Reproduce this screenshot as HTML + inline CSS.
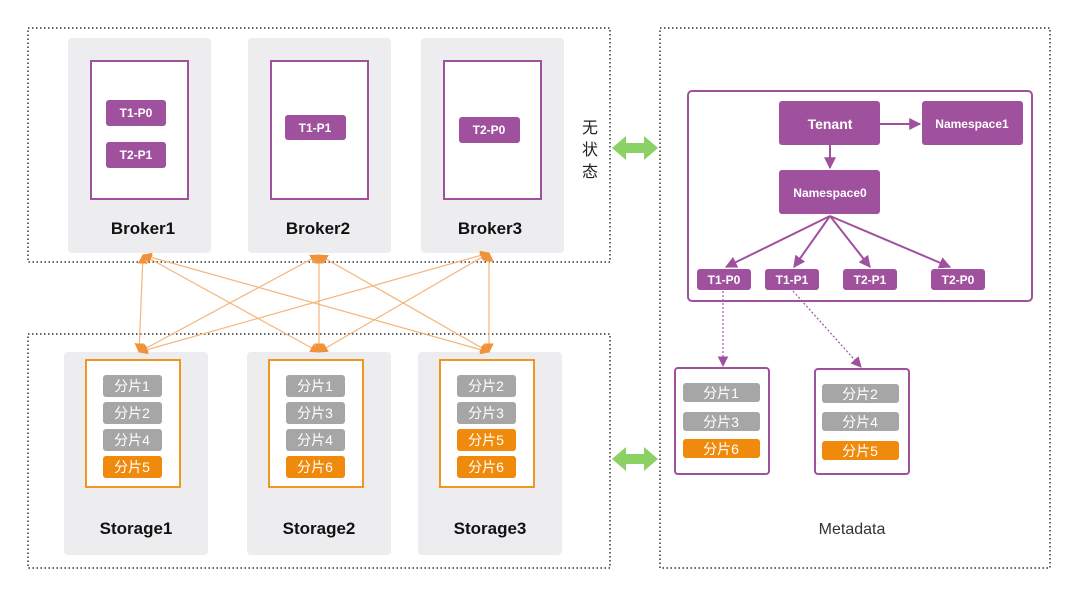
<!DOCTYPE html>
<html><head><meta charset="utf-8"><style>
body{margin:0;background:#fff}
svg{display:block;font-family:"Liberation Sans","Noto Sans CJK SC",sans-serif}
.p{fill:#a0519e}
.pt{fill:#fff;font-weight:bold;text-anchor:middle;dominant-baseline:central}
.g{fill:#a6a6a6}
.o{fill:#f08a0c}
.ct{fill:#fff;font-size:14px;text-anchor:middle;dominant-baseline:central}
.lb{font-size:17px;text-anchor:middle;fill:#111;font-weight:600}
</style></head><body>
<svg width="1080" height="596" viewBox="0 0 1080 596">
<defs>
<marker id="oa" viewBox="0 0 10 10" refX="9" refY="5" markerWidth="8" markerHeight="8" orient="auto-start-reverse"><path d="M0,0L10,5L0,10z" fill="#f0923a"/></marker>
<marker id="pa" viewBox="0 0 10 10" refX="9" refY="5" markerWidth="6" markerHeight="6" orient="auto"><path d="M0,0L10,5L0,10z" fill="#a0519e"/></marker>
<marker id="pb" viewBox="0 0 10 10" refX="9" refY="5" markerWidth="9" markerHeight="9" orient="auto"><path d="M0,0L10,5L0,10z" fill="#a0519e"/></marker>
</defs>
<g fill="none" stroke="#333" stroke-width="1.5" stroke-dasharray="1.5 2.5">
<rect x="28" y="28" width="582" height="234"/>
<rect x="28" y="334" width="582" height="234"/>
<rect x="660" y="28" width="390" height="540"/>
</g>
<g fill="#ededf0">
<rect x="68" y="38" width="143" height="215" rx="4"/>
<rect x="248" y="38" width="143" height="215" rx="4"/>
<rect x="421" y="38" width="143" height="215" rx="4"/>
<rect x="64" y="352" width="144" height="203" rx="4"/>
<rect x="247" y="352" width="144" height="203" rx="4"/>
<rect x="418" y="352" width="144" height="203" rx="4"/>
</g>
<g fill="#fff" stroke="#a0519e" stroke-width="2">
<rect x="91" y="61" width="97" height="138"/>
<rect x="271" y="61" width="97" height="138"/>
<rect x="444" y="61" width="97" height="138"/>
</g>
<g font-size="12">
<rect class="p" x="106" y="100" width="60" height="26" rx="3"/><text class="pt" x="136" y="113">T1-P0</text>
<rect class="p" x="106" y="142" width="60" height="26" rx="3"/><text class="pt" x="136" y="155">T2-P1</text>
<rect class="p" x="285" y="115" width="61" height="25" rx="3"/><text class="pt" x="315" y="128">T1-P1</text>
<rect class="p" x="459" y="117" width="61" height="26" rx="3"/><text class="pt" x="489" y="130">T2-P0</text>
</g>
<text class="lb" x="143" y="234">Broker1</text>
<text class="lb" x="318" y="234">Broker2</text>
<text class="lb" x="490" y="234">Broker3</text>
<g font-size="16" fill="#222" text-anchor="middle"><text x="590" y="133">无</text><text x="590" y="155">状</text><text x="590" y="177">态</text></g>
<g fill="#8cd163">
<path d="M612,148 L626,136 L626,143 L644,143 L644,136 L658,148 L644,160 L644,153 L626,153 L626,160z"/>
<path d="M612,459 L626,447 L626,454 L644,454 L644,447 L658,459 L644,471 L644,464 L626,464 L626,471z"/>
</g>
<g stroke="#f5b57a" stroke-width="1.2" marker-start="url(#oa)" marker-end="url(#oa)">
<line x1="143" y1="255" x2="139" y2="352"/><line x1="143" y1="255" x2="319" y2="352"/><line x1="143" y1="255" x2="489" y2="352"/>
<line x1="319" y1="255" x2="139" y2="352"/><line x1="319" y1="255" x2="319" y2="352"/><line x1="319" y1="255" x2="489" y2="352"/>
<line x1="489" y1="253" x2="139" y2="352"/><line x1="489" y1="253" x2="319" y2="352"/><line x1="489" y1="253" x2="489" y2="352"/>
</g>
<g fill="#fff" stroke="#f08a0c" stroke-width="1.8">
<rect x="86" y="360" width="94" height="127"/>
<rect x="269" y="360" width="94" height="127"/>
<rect x="440" y="360" width="94" height="127"/>
</g>
<g>
<rect class="g" x="103" y="375" width="59" height="22" rx="3"/><text class="ct" x="132" y="386">分片1</text>
<rect class="g" x="103" y="402" width="59" height="22" rx="3"/><text class="ct" x="132" y="413">分片2</text>
<rect class="g" x="103" y="429" width="59" height="22" rx="3"/><text class="ct" x="132" y="440">分片4</text>
<rect class="o" x="103" y="456" width="59" height="22" rx="3"/><text class="ct" x="132" y="467">分片5</text>
<rect class="g" x="286" y="375" width="59" height="22" rx="3"/><text class="ct" x="315" y="386">分片1</text>
<rect class="g" x="286" y="402" width="59" height="22" rx="3"/><text class="ct" x="315" y="413">分片3</text>
<rect class="g" x="286" y="429" width="59" height="22" rx="3"/><text class="ct" x="315" y="440">分片4</text>
<rect class="o" x="286" y="456" width="59" height="22" rx="3"/><text class="ct" x="315" y="467">分片6</text>
<rect class="g" x="457" y="375" width="59" height="22" rx="3"/><text class="ct" x="486" y="386">分片2</text>
<rect class="g" x="457" y="402" width="59" height="22" rx="3"/><text class="ct" x="486" y="413">分片3</text>
<rect class="o" x="457" y="429" width="59" height="22" rx="3"/><text class="ct" x="486" y="440">分片5</text>
<rect class="o" x="457" y="456" width="59" height="22" rx="3"/><text class="ct" x="486" y="467">分片6</text>
</g>
<text class="lb" x="136" y="534">Storage1</text>
<text class="lb" x="319" y="534">Storage2</text>
<text class="lb" x="490" y="534">Storage3</text>
<rect x="688" y="91" width="344" height="210" rx="4" fill="none" stroke="#a0519e" stroke-width="2"/>
<rect class="p" x="779" y="101" width="101" height="44" rx="3"/><text class="pt" x="830" y="124" font-size="14">Tenant</text>
<rect class="p" x="922" y="101" width="101" height="44" rx="3"/><text class="pt" x="972" y="124" font-size="12">Namespace1</text>
<rect class="p" x="779" y="170" width="101" height="44" rx="3"/><text class="pt" x="830" y="193" font-size="12">Namespace0</text>
<g font-size="12">
<rect class="p" x="697" y="269" width="54" height="21" rx="3"/><text class="pt" x="724" y="280">T1-P0</text>
<rect class="p" x="765" y="269" width="54" height="21" rx="3"/><text class="pt" x="792" y="280">T1-P1</text>
<rect class="p" x="843" y="269" width="54" height="21" rx="3"/><text class="pt" x="870" y="280">T2-P1</text>
<rect class="p" x="931" y="269" width="54" height="21" rx="3"/><text class="pt" x="958" y="280">T2-P0</text>
</g>
<g stroke="#a0519e" stroke-width="2" marker-end="url(#pa)">
<line x1="880" y1="124" x2="920" y2="124"/>
<line x1="830" y1="145" x2="830" y2="168"/>
<line x1="830" y1="216" x2="726" y2="267"/>
<line x1="830" y1="216" x2="794" y2="267"/>
<line x1="830" y1="216" x2="870" y2="267"/>
<line x1="830" y1="216" x2="950" y2="267"/>
</g>
<g stroke="#a0519e" stroke-width="1.2" stroke-dasharray="2 2" marker-end="url(#pb)">
<line x1="723" y1="291" x2="723" y2="366"/>
<line x1="793" y1="291" x2="861" y2="367"/>
</g>
<g fill="#fff" stroke="#a0519e" stroke-width="2">
<rect x="675" y="368" width="94" height="106" rx="3"/>
<rect x="815" y="369" width="94" height="105" rx="3"/>
</g>
<rect class="g" x="683" y="383" width="77" height="19" rx="3"/><text class="ct" x="721" y="393">分片1</text>
<rect class="g" x="683" y="412" width="77" height="19" rx="3"/><text class="ct" x="721" y="422">分片3</text>
<rect class="o" x="683" y="439" width="77" height="19" rx="3"/><text class="ct" x="721" y="449">分片6</text>
<rect class="g" x="822" y="384" width="77" height="19" rx="3"/><text class="ct" x="860" y="394">分片2</text>
<rect class="g" x="822" y="412" width="77" height="19" rx="3"/><text class="ct" x="860" y="422">分片4</text>
<rect class="o" x="822" y="441" width="77" height="19" rx="3"/><text class="ct" x="860" y="451">分片5</text>
<text x="852" y="534" font-size="16" text-anchor="middle" fill="#333">Metadata</text>
</svg>
</body></html>
